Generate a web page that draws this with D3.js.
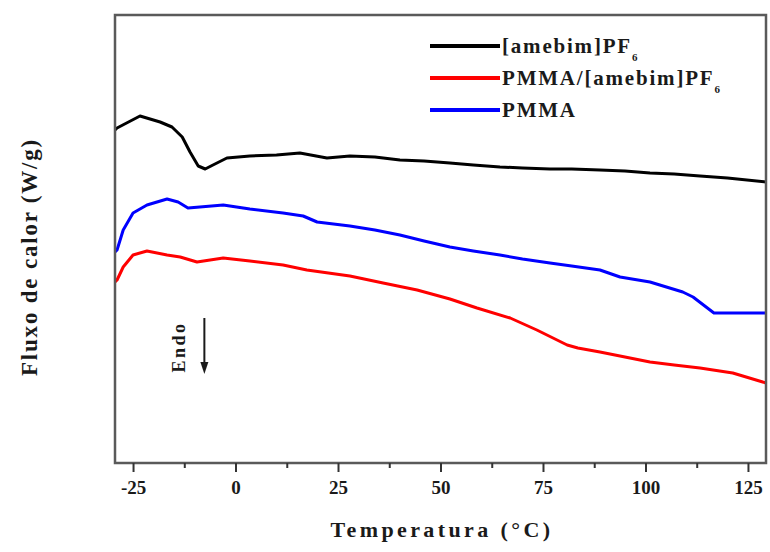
<!DOCTYPE html>
<html><head><meta charset="utf-8">
<script src="https://cdn.jsdelivr.net/npm/d3@7"></script>
<style>body{margin:0;background:#fff}svg{display:block}</style>
</head><body>
<script>
// Temperatures (°C) and heat flow (arbitrary W/g units, offset curves)
const blackT = [-29.4,-28.9,-23.3,-18.4,-15.5,-13.0,-11.1,-9.1,-7.4,-5.5,-2.1,3.5,10,15.7,22.3,27.9,34,40.1,46,52.3,58,64.5,70,76.7,82,88.9,95,101.1,107,113.3,120,129.4];
const blackV = [3.33,3.35,3.47,3.41,3.36,3.26,3.11,2.97,2.94,2.98,3.05,3.07,3.08,3.10,3.05,3.07,3.06,3.03,3.02,3.00,2.98,2.96,2.95,2.94,2.94,2.93,2.92,2.90,2.89,2.87,2.85,2.81];
const blueT = [-29.4,-28.9,-27.4,-25,-21.6,-16.7,-14.0,-11.6,-8.7,-3.0,3.5,11.6,16.5,19.9,27.9,34,40.1,46,52.3,58,64.5,70,76.7,82,88.9,93.8,101.1,109.1,111.6,116.7,122,129.4];
const blueV = [2.11,2.13,2.33,2.50,2.58,2.64,2.61,2.55,2.56,2.58,2.54,2.50,2.47,2.41,2.37,2.33,2.28,2.22,2.16,2.12,2.08,2.04,2.00,1.97,1.93,1.86,1.81,1.71,1.66,1.50,1.50,1.50];
const redT = [-29.4,-28.9,-27.4,-25,-21.6,-16.7,-13.5,-9.4,-3.0,3.5,11.6,17.4,27.9,36.0,44.3,52.3,58.9,67.0,73.5,80.9,83.5,88.9,95,101.1,107,113.3,121.3,129.4];
const redV = [1.81,1.83,1.96,2.08,2.12,2.08,2.06,2.01,2.05,2.02,1.98,1.93,1.87,1.80,1.73,1.64,1.55,1.45,1.33,1.18,1.15,1.11,1.06,1.01,0.98,0.95,0.90,0.80];
const xTicks = [-25,0,25,50,75,100,125];
const xMinorTicks = [-12.5,12.5,37.5,62.5,87.5,112.5];
const seriesNames = ["[amebim]PF", "PMMA/[amebim]PF", "PMMA"];
const seriesSubs = ["6","6",""];
const seriesColors = ["#000000","#ff0000","#0000ff"];

const W=770,H=552;
const m={l:115,r:766,t:15,b:463};
const svg=d3.select("body").append("svg").attr("width",W).attr("height",H);
const x=d3.scaleLinear().domain([-29.4,129.4]).range([m.l,m.r]);
const y=d3.scaleLinear().domain([0,4.48]).range([m.b,m.t]);
const font="'Liberation Serif','Times New Roman',serif";
const ink="#1a1a1a";

// curves
const line=d3.line().x(d=>x(d[0])).y(d=>y(d[1]));
const series=[[blackT,blackV],[redT,redV],[blueT,blueV]];
series.forEach((s,i)=>{
  svg.append("path").datum(s[0].map((t,j)=>[t,s[1][j]]))
    .attr("d",line).attr("fill","none").attr("stroke",seriesColors[i])
    .attr("stroke-width",3).attr("stroke-linejoin","round");
});

// frame
svg.append("rect").attr("x",m.l).attr("y",m.t).attr("width",m.r-m.l).attr("height",m.b-m.t)
  .attr("fill","none").attr("stroke","#5a5a5a").attr("stroke-width",2.5);

// x axis
const ax=svg.append("g").attr("transform",`translate(0,${m.b})`)
  .call(d3.axisBottom(x).tickValues(xTicks).tickSize(9).tickPadding(9).tickFormat(d3.format("d")));
ax.select(".domain").remove();
ax.selectAll(".tick line").attr("stroke","#333").attr("stroke-width",2);
ax.selectAll("text").attr("font-family",font).attr("font-weight","bold").attr("font-size",19).attr("fill",ink)
  .text(d=>d<0?"-"+Math.abs(d):d);
const axm=svg.append("g").attr("transform",`translate(0,${m.b})`)
  .call(d3.axisBottom(x).tickValues(xMinorTicks).tickSize(5).tickFormat(""));
axm.select(".domain").remove();
axm.selectAll(".tick line").attr("stroke","#333").attr("stroke-width",2);

// axis titles
svg.append("text").attr("x",442).attr("y",537).attr("text-anchor","middle")
  .attr("font-family",font).attr("font-weight","bold").attr("font-size",22).attr("letter-spacing",3.4).attr("fill",ink)
  .text("Temperatura (°C)");
svg.append("text").attr("transform","translate(37,257) rotate(-90)").attr("text-anchor","middle")
  .attr("font-family",font).attr("font-weight","bold").attr("font-size",23).attr("letter-spacing",1.8).attr("fill",ink)
  .text("Fluxo de calor (W/g)");

// Endo marker
svg.append("text").attr("transform","translate(185,347) rotate(-90)").attr("text-anchor","middle")
  .attr("font-family",font).attr("font-weight","bold").attr("font-size",18).attr("letter-spacing",2.5).attr("fill",ink).text("Endo");
svg.append("line").attr("x1",x(-7.6)).attr("x2",x(-7.6)).attr("y1",318).attr("y2",366)
  .attr("stroke",ink).attr("stroke-width",2);
svg.append("path").attr("d",`M${x(-7.6)-4},362 L${x(-7.6)+4},362 L${x(-7.6)},374 Z`).attr("fill",ink);

// legend
const lg=svg.append("g");
const lgY=[46,78,110];
seriesNames.forEach((n,i)=>{
  lg.append("line").attr("x1",430).attr("x2",500).attr("y1",lgY[i]).attr("y2",lgY[i])
    .attr("stroke",seriesColors[i]).attr("stroke-width",4);
  const t=lg.append("text").attr("x",502).attr("y",lgY[i]+7)
    .attr("font-family",font).attr("font-weight","bold").attr("font-size",21).attr("fill",ink)
    .attr("letter-spacing",1.8).text(n);
  if(seriesSubs[i]) t.append("tspan").attr("dy",8).attr("font-size",11).text(seriesSubs[i]);
});
</script>
</body></html>
